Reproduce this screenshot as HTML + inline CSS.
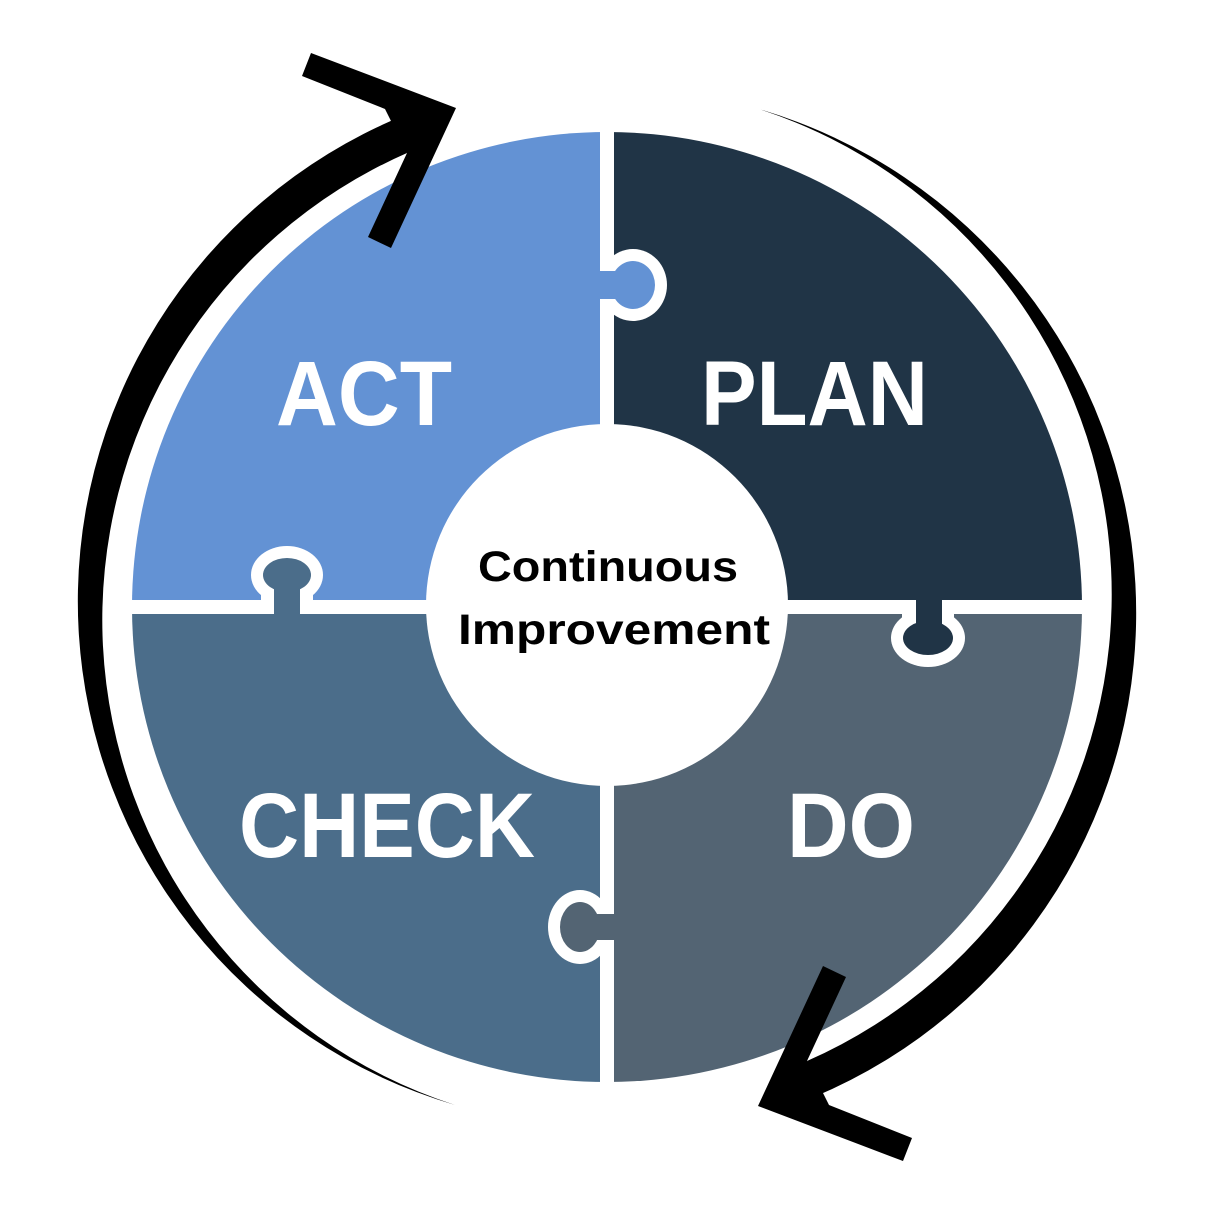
<!DOCTYPE html>
<html><head><meta charset="utf-8"><style>html,body{margin:0;padding:0;background:#fff}svg{display:block}</style></head>
<body>
<svg width="1215" height="1215" viewBox="0 0 1215 1215" xmlns="http://www.w3.org/2000/svg">
<defs>
<clipPath id="c"><circle cx="607" cy="607" r="475"/></clipPath>
</defs>
<g clip-path="url(#c)">
<rect x="100" y="100" width="500" height="500" rx="14" fill="#6392d4"/>
<rect x="614" y="100" width="500" height="500" rx="14" fill="#203446"/>
<rect x="100" y="614" width="500" height="500" rx="14" fill="#4b6d8a"/>
<rect x="614" y="614" width="500" height="500" rx="14" fill="#536473"/>
</g>
<!-- top knob: ACT into PLAN -->
<ellipse cx="633" cy="285" rx="34" ry="36" fill="#fff"/>
<rect x="600" y="256" width="30" height="58" fill="#fff"/>
<ellipse cx="633" cy="285" rx="22" ry="24" fill="#6392d4"/>
<rect x="590" y="271" width="30" height="28" fill="#6392d4"/>
<!-- left knob: CHECK into ACT -->
<ellipse cx="287" cy="575" rx="36" ry="29" fill="#fff"/>
<rect x="261" y="580" width="52" height="24" fill="#fff"/>
<ellipse cx="287" cy="575" rx="24" ry="17" fill="#4b6d8a"/>
<rect x="274" y="580" width="26" height="40" fill="#4b6d8a"/>
<!-- right knob: PLAN into DO -->
<ellipse cx="928" cy="638" rx="37" ry="29" fill="#fff"/>
<rect x="902" y="610" width="52" height="28" fill="#fff"/>
<ellipse cx="928" cy="638" rx="25" ry="17" fill="#203446"/>
<rect x="916" y="595" width="26" height="40" fill="#203446"/>
<!-- bottom knob: DO into CHECK -->
<ellipse cx="580" cy="927" rx="32" ry="37" fill="#fff"/>
<rect x="584" y="901" width="30" height="52" fill="#fff"/>
<ellipse cx="580" cy="927" rx="20" ry="25" fill="#536473"/>
<rect x="580" y="914" width="40" height="26" fill="#536473"/>
<!-- center -->
<circle cx="607" cy="605" r="181" fill="#fff"/>
<g font-family="Liberation Sans, sans-serif" font-weight="bold" fill="#fff">
<text x="276" y="425" font-size="92" textLength="176" lengthAdjust="spacingAndGlyphs">ACT</text>
<text x="701" y="425" font-size="92" textLength="227" lengthAdjust="spacingAndGlyphs">PLAN</text>
<text x="239" y="857" font-size="92" textLength="296" lengthAdjust="spacingAndGlyphs">CHECK</text>
<text x="787" y="857" font-size="92" textLength="128" lengthAdjust="spacingAndGlyphs">DO</text>
</g>
<g font-family="Liberation Sans, sans-serif" font-weight="bold" fill="#000" font-size="43">
<text x="478" y="581" textLength="260" lengthAdjust="spacingAndGlyphs">Continuous</text>
<text x="458" y="644" textLength="312" lengthAdjust="spacingAndGlyphs">Improvement</text>
</g>
<!-- arrows -->
<g fill="#000">
<path d="M455 1105 A525 525 0 0 1 400 117 L407 153 A510 510 0 0 0 455 1105 Z"/>
<polygon points="311,53 456,108 391,248 368,237 407,153 385,109 302,76"/>
</g>
<g transform="rotate(180 607 607)" fill="#000">
<path d="M455 1105 A525 525 0 0 1 400 117 L407 153 A510 510 0 0 0 455 1105 Z"/>
<polygon points="311,53 456,108 391,248 368,237 407,153 385,109 302,76"/>
</g>
</svg>
</body></html>
